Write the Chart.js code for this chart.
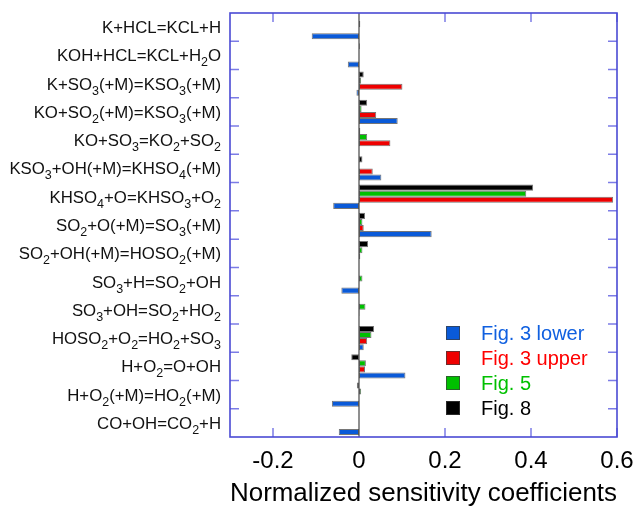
<!DOCTYPE html>
<html>
<head>
<meta charset="utf-8">
<style>
  html, body { margin: 0; padding: 0; background: #fff; }
  #sens { display: block; }
</style>
<script src="https://cdn.jsdelivr.net/npm/chart.js@4/dist/chart.umd.min.js"></script>
</head>
<body>
<canvas id="sens" width="639" height="509" style="width:639px;height:509px"></canvas>
<script>
// Reactions, top to bottom ("_n" marks a subscript digit)
var reactions = [
    'K+HCL=KCL+H',
    'KOH+HCL=KCL+H_2O',
    'K+SO_3(+M)=KSO_3(+M)',
    'KO+SO_2(+M)=KSO_3(+M)',
    'KO+SO_3=KO_2+SO_2',
    'KSO_3+OH(+M)=KHSO_4(+M)',
    'KHSO_4+O=KHSO_3+O_2',
    'SO_2+O(+M)=SO_3(+M)',
    'SO_2+OH(+M)=HOSO_2(+M)',
    'SO_3+H=SO_2+OH',
    'SO_3+OH=SO_2+HO_2',
    'HOSO_2+O_2=HO_2+SO_3',
    'H+O_2=O+OH',
    'H+O_2(+M)=HO_2(+M)',
    'CO+OH=CO_2+H'
];

// Normalized sensitivity coefficients per case (null = no bar)
var fig8 = [null, 0.002, 0.011, 0.019, 0.003, 0.008, 0.405, 0.014, 0.021, null, null, 0.035, -0.018, -0.005, null];
var fig5 = [0.003, null, 0.005, 0.006, 0.019, null, 0.389, 0.008, 0.008, 0.008, 0.015, 0.029, 0.016, 0.005, null];
var fig3upper = [null, null, 0.101, 0.040, 0.073, 0.032, 0.591, 0.011, 0.003, null, 0.001, 0.019, 0.014, null, null];
var fig3lower = [-0.110, -0.026, -0.006, 0.090, null, 0.052, -0.060, 0.169, null, -0.041, null, 0.011, 0.108, -0.063, -0.047];

var xTicks = [-0.2, 0, 0.2, 0.4, 0.6];

var FONT = "'Liberation Sans', Arial, Helvetica, sans-serif";

function bars(label, data, fill) {
    return {
        label: label,
        data: data,
        backgroundColor: fill,
        borderColor: 'rgba(60,60,60,0.7)',
        borderWidth: 1,
        borderSkipped: false,
        categoryPercentage: 0.86,
        barPercentage: 1
    };
}

// reaction names with subscripts, right aligned against the frame
var reactionLabels = {
    id: 'reactionLabels',
    afterDraw: function (chart) {
        var ctx = chart.ctx;
        var yScale = chart.scales.y;
        var right = chart.chartArea.left - 9;
        ctx.save();
        ctx.fillStyle = '#111';
        ctx.textBaseline = 'alphabetic';
        reactions.forEach(function (name, i) {
            var parts = name.split(/(_\d)/).filter(function (p) { return p.length; });
            var runs = parts.map(function (p) {
                var sub = p.charAt(0) === '_';
                ctx.font = (sub ? '12.5px ' : '16.8px ') + FONT;
                var text = sub ? p.slice(1) : p;
                return { text: text, sub: sub, w: ctx.measureText(text).width };
            });
            var total = runs.reduce(function (s, r) { return s + r.w; }, 0);
            var x = right - total;
            var base = yScale.getPixelForValue(i) + 6;
            runs.forEach(function (r) {
                ctx.font = (r.sub ? '12.5px ' : '16.8px ') + FONT;
                ctx.fillText(r.text, x, r.sub ? base + 5 : base);
                x += r.w;
            });
        });
        ctx.restore();
    }
};

// zero line behind the bars
var zeroLine = {
    id: 'zeroLine',
    beforeDatasetsDraw: function (chart) {
        var ctx = chart.ctx, a = chart.chartArea;
        var x0 = chart.scales.x.getPixelForValue(0);
        ctx.save();
        ctx.strokeStyle = '#6a6a6a';
        ctx.lineWidth = 1.5;
        ctx.beginPath();
        ctx.moveTo(x0, a.top);
        ctx.lineTo(x0, a.bottom);
        ctx.stroke();
        ctx.restore();
    }
};

// box frame with inward ticks on all four sides
var frame = {
    id: 'frame',
    afterDraw: function (chart) {
        var ctx = chart.ctx, a = chart.chartArea;
        var xs = chart.scales.x, ys = chart.scales.y;
        var len = 9;
        ctx.save();
        ctx.strokeStyle = '#7c7ce6';
        ctx.lineWidth = 1.5;
        ctx.beginPath();
        for (var i = 0; i < reactions.length - 1; i++) {
            var yb = (ys.getPixelForValue(i) + ys.getPixelForValue(i + 1)) / 2;
            ctx.moveTo(a.left, yb); ctx.lineTo(a.left + len, yb);
            ctx.moveTo(a.right, yb); ctx.lineTo(a.right - len, yb);
        }
        xTicks.forEach(function (v) {
            if (v === 0) return;
            var xp = xs.getPixelForValue(v);
            ctx.moveTo(xp, a.top); ctx.lineTo(xp, a.top + len);
            ctx.moveTo(xp, a.bottom); ctx.lineTo(xp, a.bottom - len);
        });
        ctx.stroke();
        ctx.strokeStyle = '#4a4ad4';
        ctx.lineWidth = 1.6;
        ctx.strokeRect(a.left, a.top, a.right - a.left, a.bottom - a.top);
        ctx.restore();
    }
};

// legend inside the plot, listed bottom dataset first
var boxLegend = {
    id: 'boxLegend',
    afterDraw: function (chart) {
        var ctx = chart.ctx;
        var sets = chart.data.datasets;
        var textColors = ['#000000', '#00c000', '#ff0000', '#1060e0'];
        ctx.save();
        ctx.font = '20px ' + FONT;
        ctx.textBaseline = 'middle';
        for (var k = 0; k < sets.length; k++) {
            var d = sets.length - 1 - k;
            var y = 333 + k * 25;
            ctx.fillStyle = sets[d].backgroundColor;
            ctx.fillRect(446, y - 7, 14, 14);
            ctx.strokeStyle = 'rgba(60,60,60,0.7)';
            ctx.lineWidth = 1;
            ctx.strokeRect(446.5, y - 6.5, 13, 13);
            ctx.fillStyle = textColors[d];
            ctx.fillText(sets[d].label, 481, y + 1);
        }
        ctx.restore();
    }
};

var ctx = document.getElementById('sens').getContext('2d');
var sensChart = new Chart(ctx, {
    type: 'bar',
    data: {
        labels: reactions,
        datasets: [
            bars('Fig. 8', fig8, '#000000'),
            bars('Fig. 5', fig5, '#00c000'),
            bars('Fig. 3 upper', fig3upper, '#ee0000'),
            bars('Fig. 3 lower', fig3lower, '#0a5ad8')
        ]
    },
    options: {
        indexAxis: 'y',
        responsive: false,
        animation: false,
        layout: { padding: { left: 230, right: 22, top: 13, bottom: 0 } },
        plugins: {
            legend: { display: false },
            tooltip: { enabled: false }
        },
        scales: {
            x: {
                min: -0.3,
                max: 0.6,
                afterBuildTicks: function (scale) {
                    scale.ticks = xTicks.map(function (v) { return { value: v }; });
                },
                afterFit: function (scale) {
                    scale.height = 72;
                    scale.paddingLeft = 0;
                    scale.paddingRight = 0;
                },
                grid: { display: false, drawTicks: false },
                border: { display: false },
                ticks: {
                    autoSkip: false,
                    maxRotation: 0,
                    padding: 10,
                    color: '#000',
                    font: { family: FONT, size: 24 },
                    callback: function (v) { return v === 0 ? '0' : v.toFixed(1); }
                },
                title: {
                    display: true,
                    text: 'Normalized sensitivity coefficients',
                    color: '#000',
                    padding: { top: 0, bottom: 0 },
                    font: { family: FONT, size: 26 }
                }
            },
            y: {
                grid: { display: false, drawTicks: false },
                border: { display: false },
                ticks: { display: false },
                afterFit: function (scale) { scale.width = 0; }
            }
        }
    },
    plugins: [zeroLine, frame, reactionLabels, boxLegend]
});
</script>
</body>
</html>
